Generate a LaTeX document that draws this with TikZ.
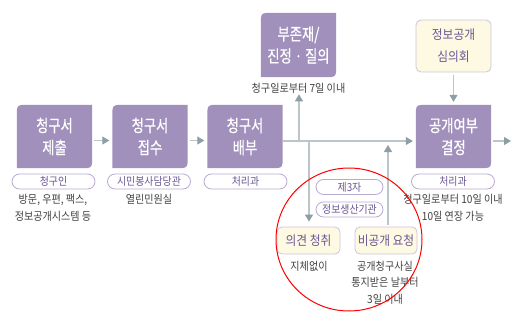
\documentclass[tikz,border=0pt]{standalone}
\usepackage{fontspec}
\setmainfont[FakeStretch=0.9]{Noto Sans CJK KR}
\newfontfamily\boxfont[FakeStretch=0.78,FakeBold=0.6]{Noto Sans CJK KR}
\usetikzlibrary{arrows.meta,backgrounds}
\definecolor{boxfill}{HTML}{A190BC}
\definecolor{pillline}{HTML}{B9A9D0}
\definecolor{pilltext}{HTML}{6A5694}
\definecolor{creamfill}{HTML}{FDF9E2}
\definecolor{creamline}{HTML}{CCC4DC}
\definecolor{linec}{HTML}{BCC5C9}
\definecolor{tipc}{HTML}{8E9EA6}
\definecolor{graytext}{HTML}{404040}
\newcommand\leafshape[1]{%
  \fill[boxfill] (#1.south west) -- ([yshift=-12pt]#1.north west) .. controls (#1.north west) .. ([xshift=12pt]#1.north west) -- (#1.north east) -- ([yshift=12pt]#1.south east) .. controls (#1.south east) .. ([xshift=-12pt]#1.south east) -- cycle;}
\tikzset{
  mainbox/.style={minimum width=75pt,minimum height=63pt,inner sep=0pt,text=white,align=center,font=\boxfont\fontsize{17}{22}\selectfont},
  pill/.style={draw=pillline,line width=0.8pt,rounded corners=7.5pt,minimum width=83pt,minimum height=15pt,inner sep=0pt,text=pilltext,font=\fontsize{11}{12}\selectfont},
  cream/.style={draw=creamline,fill=creamfill,line width=0.8pt,rounded corners=5pt,inner sep=0pt,text=pilltext,align=center},
  lbl/.style={text=graytext,align=center,inner sep=0pt,font=\fontsize{11.2}{17.5}\selectfont},
  conn/.style={draw=linec,line width=1.2pt,-{Triangle[length=7pt,width=8pt,color=tipc]}},
}
\begin{document}
\begin{tikzpicture}[x=1pt,y=-1pt]
\useasboundingbox (0,0) rectangle (512,311);
% main boxes
\node[mainbox] (b1) at (54.5,136.5) {청구서\\제출};
\node[mainbox] (b2) at (150,136.5) {청구서\\접수};
\node[mainbox] (b3) at (245,136.5) {청구서\\배부};
\node[mainbox,minimum height=64pt] (b4) at (298.5,45) {부존재/\\진정 · 질의};
\node[mainbox] (b5) at (453.5,136.5) {공개여부\\결정};
\begin{scope}[on background layer]
\leafshape{b1}\leafshape{b2}\leafshape{b3}\leafshape{b4}\leafshape{b5}
\end{scope}
\node[cream,minimum width=75pt,minimum height=52pt,font=\fontsize{13}{22}\selectfont] (sim) at (453.5,46) {정보공개\\심의회};
% pills
\node[pill] (p1) at (53.5,181.5) {청구인};
\node[pill] (p2) at (149,181.5) {시민봉사담당관};
\node[pill] (p3) at (245.5,181.5) {처리과};
\node[pill] (p5) at (453,181.5) {처리과};
\node[pill,minimum width=67pt] (p6) at (349.5,187) {제3자};
\node[pill,minimum width=67pt] (p7) at (349.5,209.5) {정보생산기관};
% labels
\node[lbl] (l1) at (53,208) {방문, 우편, 팩스,\\정보공개시스템 등};
\node[lbl] (l2) at (149,199) {열린민원실};
\node[lbl] (l4) at (298.5,88) {청구일로부터 7일 이내};
\node[lbl] (l5) at (453,208) {청구일로부터 10일 이내\\10일 연장 가능};
% cream small boxes
\node[cream,minimum width=63pt,minimum height=27pt,font=\fontsize{13}{14}\selectfont] (op) at (308.5,240.5) {의견 청취};
\node[cream,minimum width=62pt,minimum height=27pt,font=\fontsize{13}{14}\selectfont] (np) at (386,240.5) {비공개 요청};
\node[lbl] (l6) at (309,266) {지체없이};
\node[lbl,font=\fontsize{11.2}{16.5}\selectfont] (l7) at (385,282.5) {공개청구사실\\통지받은 날부터\\3일 이내};
% junction coordinates
\coordinate (j1) at (299,141);
\coordinate (j2) at (309,141);
\coordinate (j3) at (388,141);
\coordinate (out) at (511,141);
% connectors
\draw[conn,shorten <=2pt,shorten >=3pt] ([yshift=-4pt]b1.east) -- ([yshift=-4pt]b2.west);
\draw[conn,shorten <=2pt,shorten >=3pt] ([yshift=-4pt]b2.east) -- ([yshift=-4pt]b3.west);
\draw[conn,shorten >=3pt] ([yshift=-4.5pt]b3.east) -- ([yshift=-4.5pt]b5.west);
\draw[conn,shorten >=1pt] (j1) -- (j1 |- l4.south);
\draw[conn,shorten >=5pt] (j2) -- (j2 |- op.north);
\draw[conn,shorten <=2pt,shorten >=4pt] (j3 |- np.north) -- (j3);
\draw[conn,shorten <=3pt,shorten >=3pt] (sim.south) -- (b5.north);
\draw[conn,shorten <=2pt] ([yshift=-4.5pt]b5.east) -- (out);
% red circle
\draw[red,line width=1pt] (349,239.5) ellipse [x radius=73, y radius=71.5];
\end{tikzpicture}
\end{document}
